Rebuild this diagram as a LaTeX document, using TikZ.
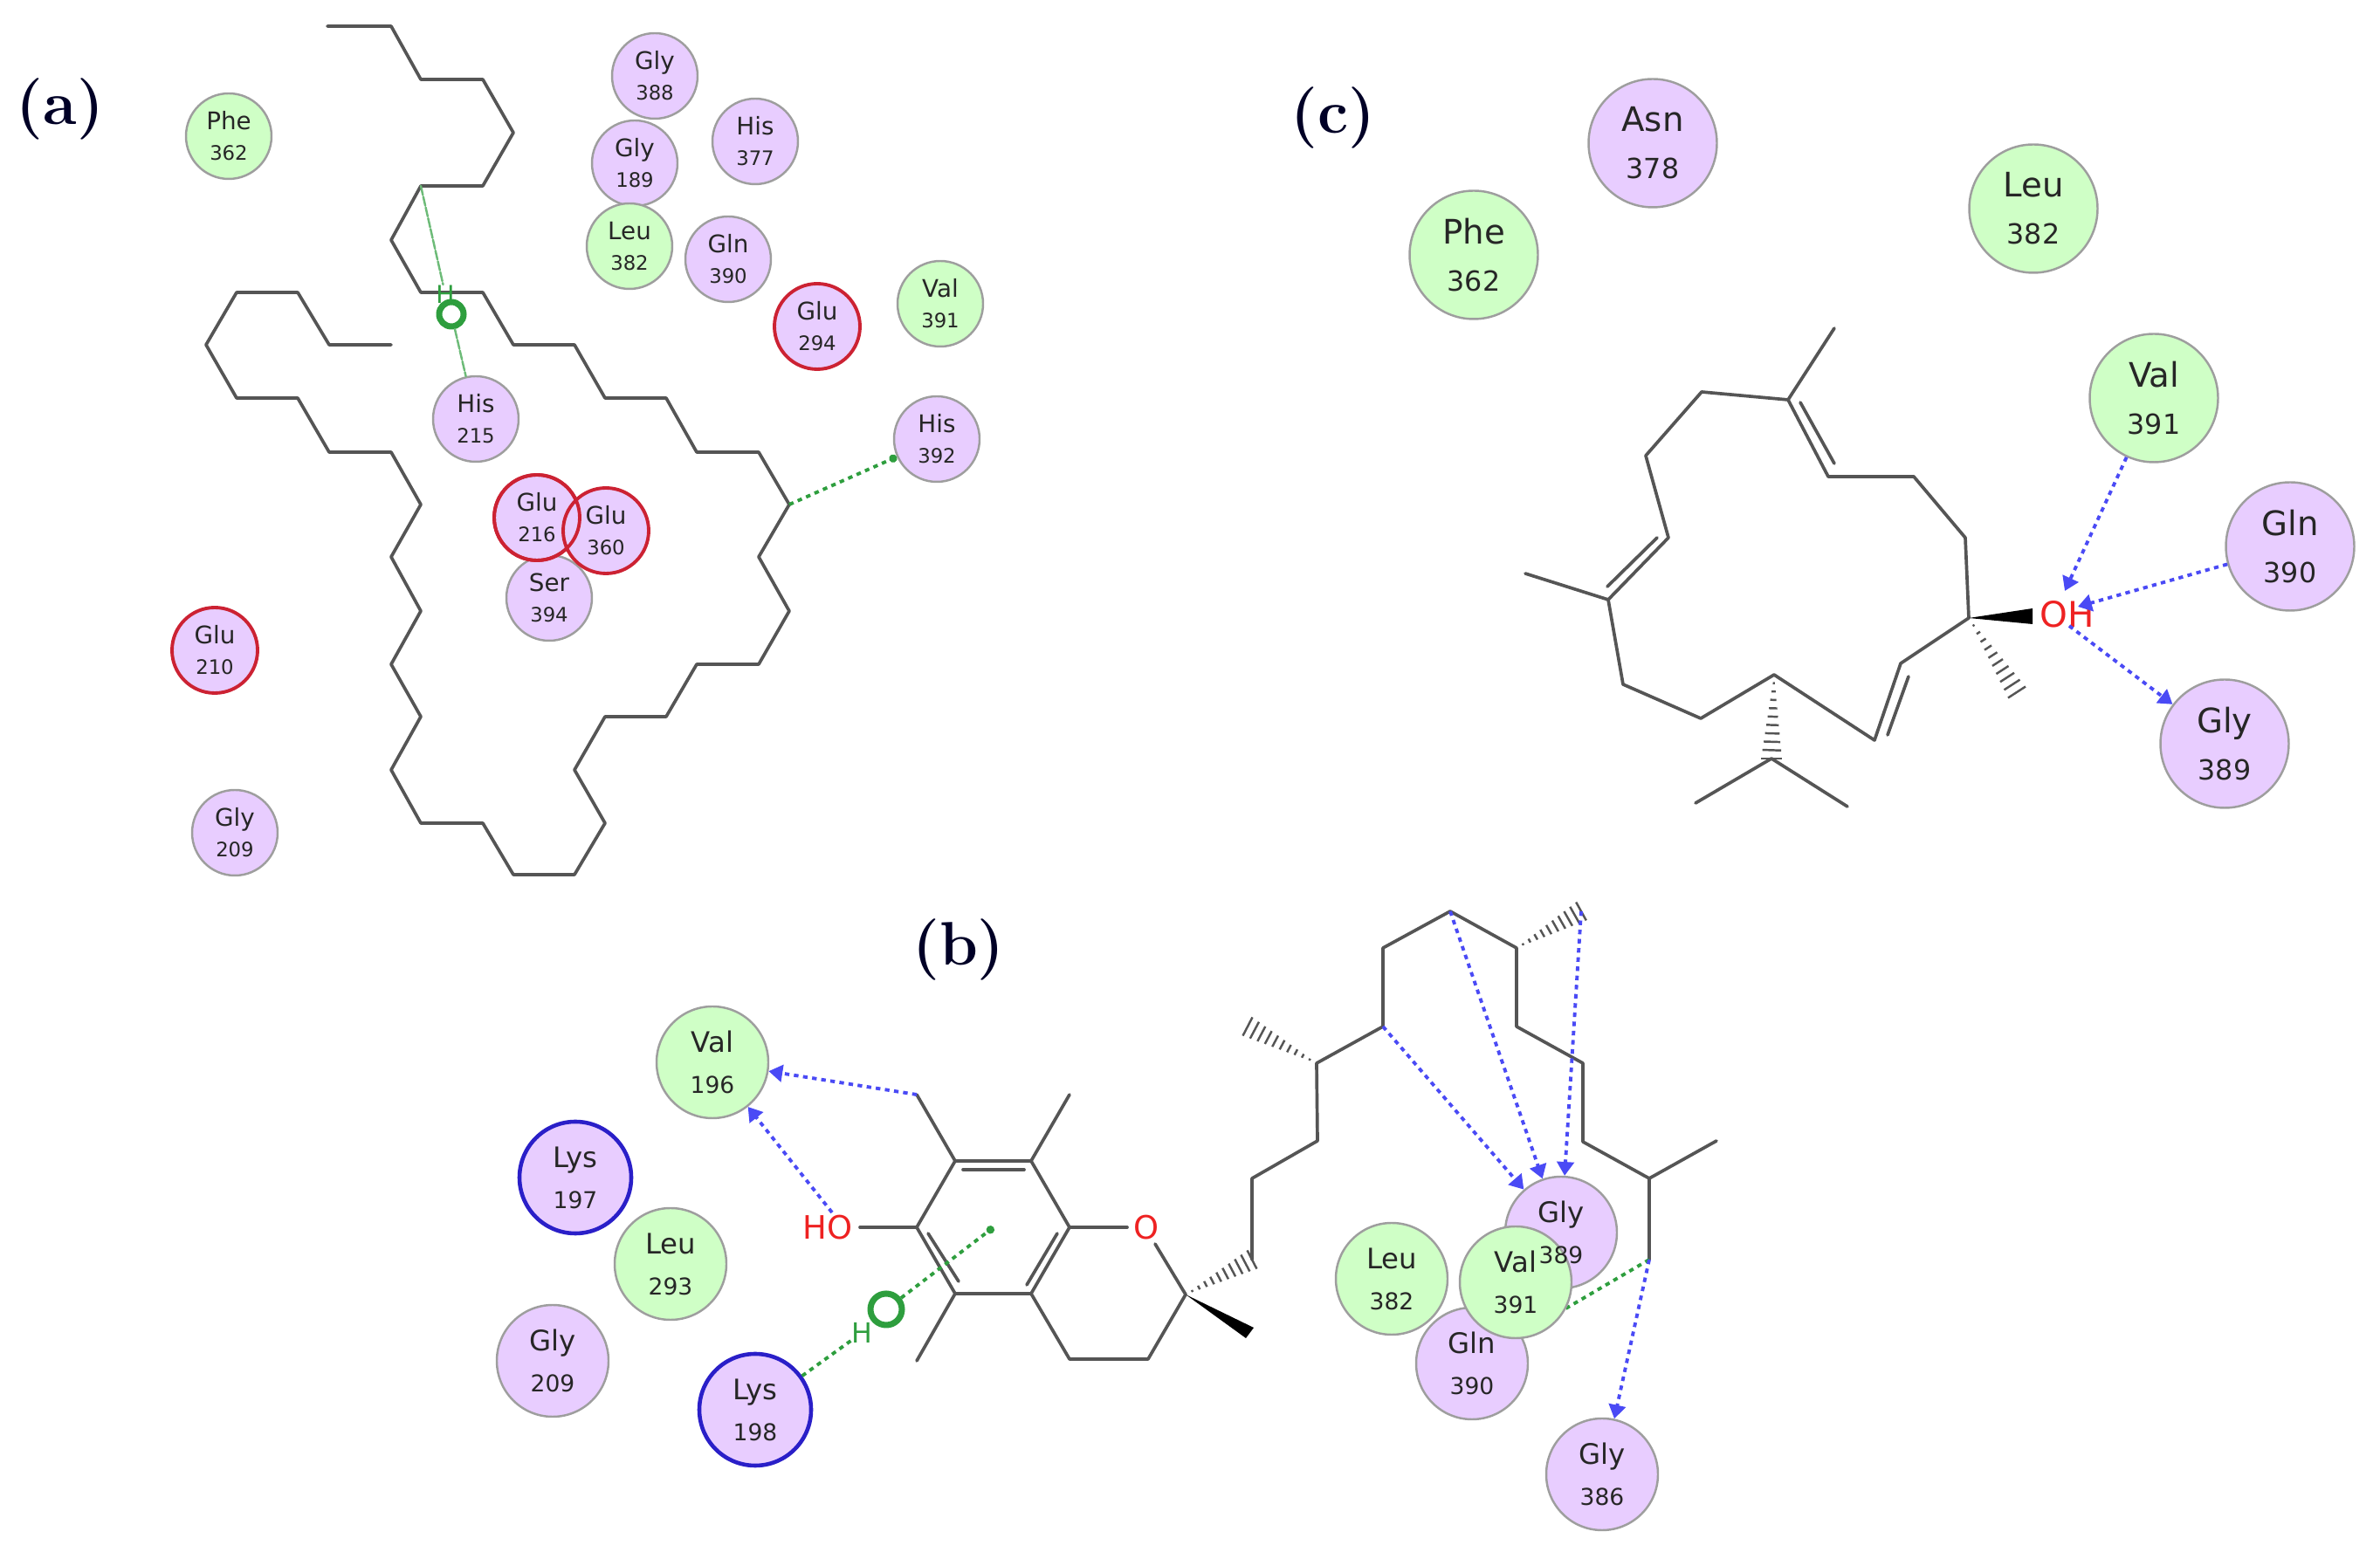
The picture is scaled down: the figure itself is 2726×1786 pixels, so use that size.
\documentclass[tikz,border=0pt]{standalone}
\usepackage{fontspec}
\setmainfont{DejaVu Sans}
\newfontfamily\panelfont{Latin Modern Roman}
\usetikzlibrary{arrows.meta}
\usetikzlibrary{calc}
\definecolor{resgreen}{HTML}{CFFFC6}
\definecolor{respurple}{HTML}{E8CDFF}
\definecolor{rimgrey}{HTML}{9E9E9E}
\definecolor{rimred}{HTML}{CC2233}
\definecolor{rimblue}{HTML}{2A1FC8}
\definecolor{bondgrey}{HTML}{555555}
\definecolor{hbblue}{HTML}{4A4AF5}
\definecolor{hbgreen}{HTML}{2E9E3E}
\definecolor{atomred}{HTML}{EE2222}
\newcommand{\res}[2]{#1\\\scalebox{.82}{#2}}
\newcommand{\hashbond}[2]{\foreach \t in {0.1,0.2,...,1.0}{\draw[line width=.7pt,bondgrey,line cap=butt] ($(#1)!\t!(#2)!\t*3.4pt!90:(#2)$) -- ($(#1)!\t!(#2)!-\t*3.4pt!90:(#2)$);}}
\tikzset{
  residue/.style={circle,draw=rimgrey,line width=.7pt,inner sep=0pt,align=center,text=black!85},
  greenres/.style={residue,fill=resgreen},
  purpleres/.style={residue,fill=respurple},
  redrim/.style={draw=rimred,line width=1.1pt},
  bluerim/.style={draw=rimblue,line width=1.3pt},
  resa/.style={minimum size=98*0.01cm,font=\fontsize{7.9}{9.9}\selectfont},
  resb/.style={minimum size=128*0.01cm,font=\fontsize{9.2}{13.4}\selectfont},
  resc/.style={minimum size=147*0.01cm,font=\fontsize{11}{15.3}\selectfont},
  bond/.style={bondgrey,line width=1.05pt},
  hbond/.style={hbblue,line width=1.1pt,line cap=butt,dash pattern=on 1.5pt off 1.5pt,->},
  greenbond/.style={hbgreen,line width=1.1pt,line cap=butt,dash pattern=on 1.5pt off 1.5pt},
  greentip/.style={-{Circle[length=2.6pt]}},
  panellabel/.style={font=\panelfont\bfseries\fontsize{20}{20}\selectfont,text=black!85!blue},
  atomlabel/.style={text=atomred,inner sep=0pt},
  greenatom/.style={text=hbgreen,inner sep=0pt},
  greenring/.style={circle,draw=hbgreen,inner sep=0pt}
}
\begin{document}
\begin{tikzpicture}[line cap=round,line join=round,>={Triangle[length=4.5pt,width=5.5pt]},x=0.01cm,y=-0.01cm]
\useasboundingbox (0,0) rectangle (2726,1786);
% panel a
\node[panellabel] (labela) at (69,125) {(a)};
\draw [bond] (375,30)--(448,30)--(482,91)--(553,91)--(588,152)--(553,213)--(482,213)--(448,275)--(482,335)--(553,335)--(588,395)--(658,395)--(693,456)--(763,456)--(798,518)--(869,518)--(904,578)--(869,638)--(904,700)--(869,761)--(798,761)--(763,821)--(693,821)--(658,882)--(693,943)--(658,1002)--(588,1002)--(553,943)--(482,943)--(448,882)--(482,821)--(448,761)--(482,700)--(448,638)--(482,578)--(448,518)--(377,518)--(341,456)--(271,456)--(236,395)--(271,335)--(341,335)--(377,395)--(448,395);
\coordinate (topa) at (482,213);
\coordinate (brancha) at (904,578);
\node[purpleres,resa] (gly388a) at (750,87) {\res{Gly}{388}};
\node[purpleres,resa] (gly189a) at (727,187) {\res{Gly}{189}};
\node[greenres,resa] (leu382a) at (721,282) {\res{Leu}{382}};
\node[greenres,resa] (phe362a) at (262,156) {\res{Phe}{362}};
\node[purpleres,resa] (his377a) at (865,162) {\res{His}{377}};
\node[purpleres,resa] (gln390a) at (834,297) {\res{Gln}{390}};
\node[purpleres,resa,redrim] (glu294a) at (936,374) {\res{Glu}{294}};
\node[greenres,resa] (val391a) at (1077,348) {\res{Val}{391}};
\node[purpleres,resa] (his215a) at (545,480) {\res{His}{215}};
\node[purpleres,resa] (his392a) at (1073,503) {\res{His}{392}};
\node[purpleres,resa] (ser394a) at (629,685) {\res{Ser}{394}};
\node[purpleres,resa,redrim] (glu216a) at (615,593) {\res{Glu}{216}};
\node[purpleres,resa,redrim] (glu360a) at (694,608) {\res{Glu}{360}};
\draw [rimred,line width=1.1pt] (glu216a) circle (49);
\node[purpleres,resa,redrim] (glu210a) at (246,745) {\res{Glu}{210}};
\node[purpleres,resa] (gly209a) at (269,954) {\res{Gly}{209}};
\node[greenatom,font=\fontsize{8}{8}\selectfont] (ha) at (510,337) {H};
\node[greenring,minimum size=28*0.01cm,line width=2pt] (ringa) at (517,360) {};
\draw [hbgreen!70,line width=.7pt,dash pattern=on 3pt off .6pt] (topa) -- (ha);
\draw [hbgreen!70,line width=.7pt,dash pattern=on 3pt off .6pt] (ringa) -- (his215a);
\draw [greenbond,greentip] (brancha) -- (his392a);
% panel b
\node[panellabel] (labelb) at (1098,1088) {(b)};
\draw [bond] (1094,1330)--(1181,1330)--(1225,1406)--(1181,1482)--(1094,1482)--(1050,1406)--cycle;
\draw [bond] (1050,1254)--(1094,1330);
\draw [bond] (1181,1330)--(1225,1254);
\draw [bond] (1103,1340)--(1173,1340);
\draw [bond] (1211,1413)--(1176,1472);
\draw [bond] (1063,1413)--(1098,1468);
\draw [bond] (1094,1482)--(1050,1559);
\draw [bond] (1225,1406)--(1291,1406);
\draw [bond] (1181,1482)--(1225,1557)--(1315,1557)--(1358,1483)--(1323,1425);
\draw [bond] (985,1406)--(1050,1406);
\fill [black] (1358,1483)--(1436,1521)--(1427,1533)--cycle;
\coordinate (cten) at (1358,1483);
\coordinate (chaina) at (1434,1443);
\hashbond{cten}{chaina}
\draw [bond] (1434,1443)--(1434,1350)--(1509,1307)--(1508,1218)--(1584,1176)--(1584,1086)--(1661,1044)--(1737,1086)--(1737,1176)--(1813,1218)--(1813,1308)--(1889,1350)--(1966,1307);
\draw [bond] (1889,1350)--(1889,1443);
\coordinate (chainb) at (1508,1218);
\coordinate (mea) at (1429,1176);
\hashbond{chainb}{mea}
\coordinate (chainc) at (1737,1086);
\coordinate (meb) at (1811,1044);
\hashbond{chainc}{meb}
\coordinate (chaind) at (1584,1176);
\coordinate (chaine) at (1661,1044);
\coordinate (chainf) at (1889,1443);
\coordinate (ohb) at (953,1389);
\coordinate (chb) at (1050,1254);
\coordinate (ringend) at (1138,1406);
\node[atomlabel,font=\fontsize{10.5}{10.5}\selectfont] (hob) at (948,1406) {HO};
\node[atomlabel,font=\fontsize{10.5}{10.5}\selectfont] (ob) at (1313,1406) {O};
\node[greenres,resb] (val196b) at (816,1217) {\res{Val}{196}};
\node[purpleres,resb,bluerim] (lys197b) at (659,1349) {\res{Lys}{197}};
\node[greenres,resb] (leu293b) at (768,1448) {\res{Leu}{293}};
\node[purpleres,resb] (gly209b) at (633,1559) {\res{Gly}{209}};
\node[purpleres,resb,bluerim] (lys198b) at (865,1615) {\res{Lys}{198}};
\node[purpleres,resb] (gly389b) at (1788,1412) {};
\node[purpleres,resb] (gln390b) at (1686,1562) {\res{Gln}{390}};
\node[greenres,resb] (leu382b) at (1594,1465) {\res{Leu}{382}};
\draw [greenbond] (chainf) -- (gln390b);
\node[greenres,resb] (val391b) at (1736,1469) {\res{Val}{391}};
\node[resb,align=center,text=black!85,inner sep=0pt] (gly389text) at (gly389b) {\res{Gly}{389}};
\node[purpleres,resb] (gly386b) at (1835,1689) {\res{Gly}{386}};
\node[greenatom,font=\fontsize{9}{9}\selectfont] (hlys) at (987,1527) {H};
\node[greenring,minimum size=36*0.01cm,line width=2pt] (ringb) at (1015,1500) {};
\draw [greenbond] (lys198b) -- (hlys);
\draw [greenbond,greentip] (ringb) -- (ringend);
\draw [hbond] (chb) -- (val196b);
\draw [hbond] (ohb) -- (val196b);
\draw [hbond] (chaind) -- (gly389b);
\draw [hbond] (chaine) -- (gly389b);
\draw [hbond] (meb) -- (gly389b);
\draw [hbond] (chainf) -- (gly386b);
% panel c
\node[panellabel] (labelc) at (1527,135) {(c)};
\draw [bond] (2255,708)--(2251,616)--(2192,546)--(2094,546)--(2048,458)--(1949,449)--(1885,522)--(1911,616)--(1842,687)--(1859,784)--(1948,823)--(2032,773)--(2147,848)--(2177,760)--cycle;
\draw [bond] (2048,458)--(2101,376);
\draw [bond] (2062,461)--(2101,531);
\draw [bond] (1898,616)--(1841,672);
\draw [bond] (1842,687)--(1747,657);
\draw [bond] (2162,842)--(2186,775);
\draw [bond] (1942,920)--(2029,869)--(2116,924);
\fill [black] (2255,708)--(2328,697)--(2328,715)--cycle;
\coordinate (cmid) at (2255,708);
\coordinate (mec) at (2310,793);
\hashbond{cmid}{mec}
\coordinate (cbot) at (2032,773);
\coordinate (isoc) at (2029,869);
\hashbond{cbot}{isoc}
\node[greenres,resc] (phe362c) at (1688,292) {\res{Phe}{362}};
\node[purpleres,resc] (asn378c) at (1893,164) {\res{Asn}{378}};
\node[greenres,resc] (leu382c) at (2329,239) {\res{Leu}{382}};
\node[greenres,resc] (val391c) at (2467,456) {\res{Val}{391}};
\node[purpleres,resc] (gln390c) at (2623,626) {\res{Gln}{390}};
\node[purpleres,resc] (gly389c) at (2548,852) {\res{Gly}{389}};
\node[atomlabel,font=\fontsize{11.5}{11.5}\selectfont] (ohc) at (2368,704) {OH};
\coordinate (ohval) at (2365,677);
\coordinate (ohgln) at (2380,695);
\coordinate (ohgly) at (2370,717);
\draw [hbond] (val391c) -- (ohval);
\draw [hbond] (gln390c) -- (ohgln);
\draw [hbond] (ohgly) -- (gly389c);
\end{tikzpicture}
\end{document}
